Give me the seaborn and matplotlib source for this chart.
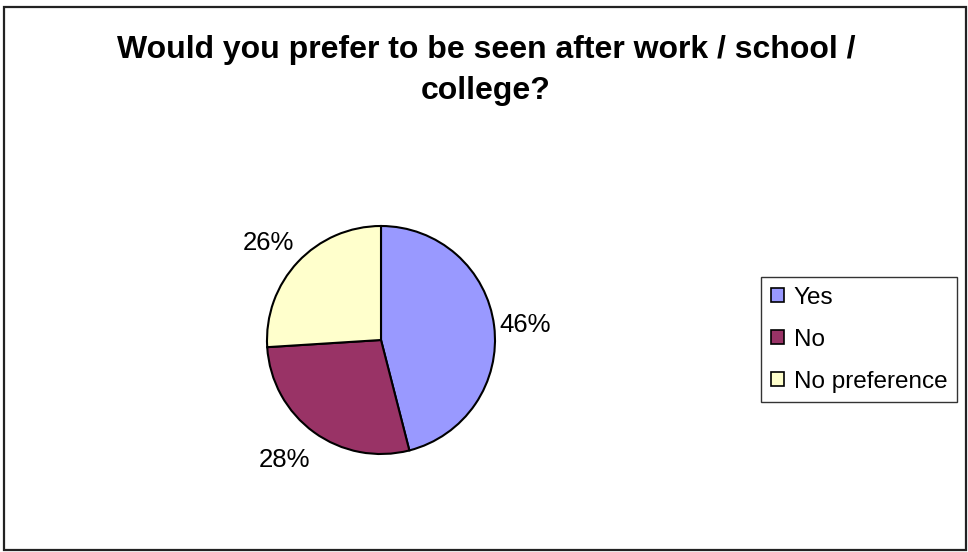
import matplotlib
matplotlib.use("Agg")
import matplotlib.pyplot as plt
import seaborn as sns
from matplotlib.patches import Rectangle
from matplotlib.transforms import offset_copy

categories = ["Yes", "No", "No preference"]
values = [46, 28, 26]
colors = ["#9999FF", "#993366", "#FFFFCC"]
title = "Would you prefer to be seen after work / school /\ncollege?"

sns.set_theme(style="white")
plt.rcParams["font.family"] = ["Liberation Sans", "DejaVu Sans"]
plt.rcParams["text.color"] = "black"

fig = plt.figure(figsize=(9.68, 5.52), dpi=100)
fig.patch.set_facecolor("white")

W, H = 968, 552
cx, cy, r = 381, 340, 114
span = 1.5
size = r * span * 2
ax = fig.add_axes([(cx - size / 2) / W, (H - cy - size / 2) / H, size / W, size / H])

wedges, texts, autotexts = ax.pie(
    values, colors=colors, startangle=90, counterclock=False,
    autopct=lambda p: f"{p:.0f}%", pctdistance=1.3,
    wedgeprops=dict(edgecolor="black", linewidth=1.5),
    textprops=dict(fontsize=18.5, color="black"),
)
label_shift = [(-3, -4), (-9, 0), (-5, -4)]
for t, (dx, dy) in zip(autotexts, label_shift):
    t.set_transform(offset_copy(ax.transData, fig=fig, x=dx, y=dy, units="dots"))
ax.set_xlim(-span, span)
ax.set_ylim(-span, span)
ax.set_aspect("equal")
ax.axis("off")

fig.text(486 / W, 1 - 35 / H, title, ha="center", va="top", color="black",
         fontsize=23, fontweight="bold", linespacing=1.5)

leg = fig.legend(wedges, categories, loc="upper left",
                 bbox_to_anchor=(761 / W, 1 - 277 / H),
                 frameon=True, fontsize=17.5, handlelength=0.55, handleheight=0.55,
                 handletextpad=0.4, labelspacing=0.82, borderpad=0.4,
                 borderaxespad=0, fancybox=False)
leg.get_frame().set_edgecolor("black")
leg.get_frame().set_linewidth(1.0)
for h in leg.legend_handles:
    h.set_linewidth(1.2)

fig.patches.append(Rectangle((4 / W, 2 / H), 962 / W, 543 / H, transform=fig.transFigure,
                             fill=False, edgecolor="#222222", linewidth=1.6))

fig.savefig("out.png", dpi=100, facecolor="white")
